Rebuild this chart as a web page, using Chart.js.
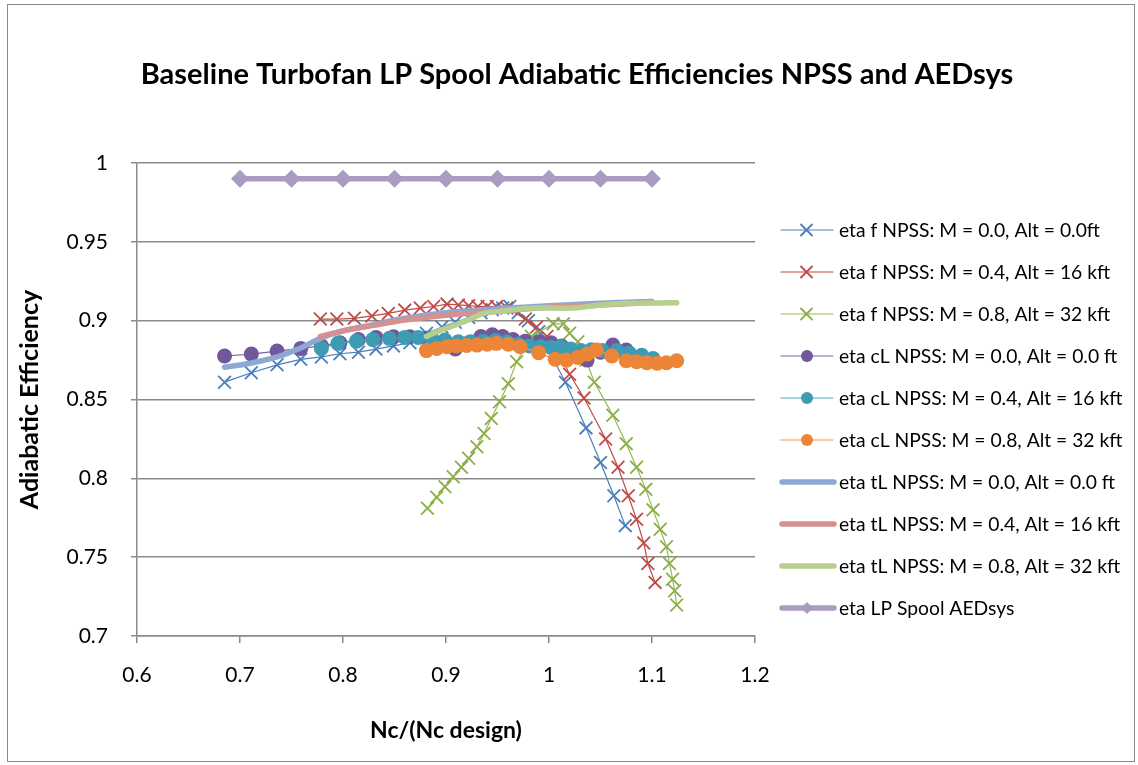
<!DOCTYPE html>
<html>
<head>
<meta charset="UTF-8">
<title>Baseline Turbofan LP Spool Adiabatic Efficiencies</title>
<style>
  body { margin: 0; background: #fff; }
</style>
</head>
<body>
<canvas id="effchart" width="1138" height="765"></canvas>

<script src="https://cdn.jsdelivr.net/npm/chart.js@4.4.1/dist/chart.umd.min.js"></script>
<script>
  // values
  var fM00x = [0.685, 0.711, 0.736, 0.759, 0.779, 0.797, 0.815, 0.832, 0.849, 0.865, 0.881, 0.896, 0.909, 0.922, 0.934, 0.945, 0.955, 0.962, 0.970, 0.980, 0.990, 1.016, 1.036, 1.050, 1.063, 1.074];
  var fM00y = [0.861, 0.867, 0.872, 0.8755, 0.877, 0.879, 0.880, 0.882, 0.884, 0.886, 0.892, 0.896, 0.899, 0.902, 0.905, 0.907, 0.908, 0.909, 0.905, 0.900, 0.893, 0.861, 0.832, 0.810, 0.789, 0.770];

  var fM04x = [0.778, 0.794, 0.811, 0.828, 0.844, 0.860, 0.875, 0.888, 0.901, 0.912, 0.922, 0.931, 0.940, 0.949, 0.959, 0.977, 0.988, 0.998, 1.010, 1.020, 1.034, 1.055, 1.067, 1.077, 1.085, 1.092, 1.096, 1.103];
  var fM04y = [0.901, 0.901, 0.9015, 0.903, 0.9046, 0.9067, 0.908, 0.909, 0.9105, 0.910, 0.9095, 0.909, 0.909, 0.909, 0.908, 0.901, 0.896, 0.890, 0.879, 0.866, 0.851, 0.825, 0.807, 0.789, 0.774, 0.759, 0.746, 0.734];

  var fM08x = [0.882, 0.891, 0.899, 0.907, 0.915, 0.922, 0.930, 0.937, 0.944, 0.952, 0.9605, 0.9686, 0.983, 1.004, 1.014, 1.020, 1.028, 1.036, 1.044, 1.062, 1.075, 1.085, 1.094, 1.101, 1.108, 1.114, 1.117, 1.120, 1.122, 1.124];
  var fM08y = [0.781, 0.788, 0.7947, 0.801, 0.807, 0.8127, 0.820, 0.8285, 0.838, 0.8486, 0.860, 0.874, 0.890, 0.898, 0.898, 0.892, 0.8866, 0.875, 0.861, 0.840, 0.822, 0.807, 0.793, 0.780, 0.7677, 0.7566, 0.746, 0.736, 0.7287, 0.7197];

  var cM00x = [0.685, 0.711, 0.736, 0.759, 0.779, 0.797, 0.815, 0.832, 0.849, 0.865, 0.881, 0.896, 0.909, 0.922, 0.934, 0.945, 0.955, 0.965, 0.977, 0.991, 1.002, 1.012, 1.022, 1.037, 1.050, 1.062, 1.075];
  var cM00y = [0.8776, 0.8788, 0.8807, 0.8824, 0.884, 0.886, 0.888, 0.8894, 0.8898, 0.8898, 0.8888, 0.886, 0.882, 0.886, 0.890, 0.891, 0.890, 0.888, 0.887, 0.8866, 0.886, 0.884, 0.880, 0.875, 0.880, 0.8845, 0.8814];

  var cM04x = [0.779, 0.795, 0.813, 0.829, 0.845, 0.860, 0.873, 0.886, 0.899, 0.912, 0.924, 0.936, 0.948, 0.959, 0.970, 0.981, 0.992, 1.002, 1.011, 1.021, 1.031, 1.041, 1.052, 1.066, 1.078, 1.090, 1.101];
  var cM04y = [0.8824, 0.8856, 0.887, 0.888, 0.8888, 0.8894, 0.8894, 0.889, 0.8877, 0.8866, 0.8866, 0.887, 0.8875, 0.8866, 0.885, 0.884, 0.8835, 0.883, 0.8835, 0.882, 0.881, 0.8815, 0.881, 0.881, 0.8795, 0.878, 0.876];

  var cM08x = [0.881, 0.891, 0.901, 0.910, 0.920, 0.930, 0.940, 0.949, 0.9605, 0.972, 0.990, 1.006, 1.017, 1.028, 1.037, 1.046, 1.061, 1.075, 1.085, 1.095, 1.105, 1.114, 1.124];
  var cM08y = [0.881, 0.8824, 0.8835, 0.884, 0.8843, 0.8845, 0.885, 0.8856, 0.885, 0.8835, 0.8797, 0.8755, 0.875, 0.8767, 0.8788, 0.8814, 0.8776, 0.8746, 0.874, 0.8733, 0.873, 0.8733, 0.8746];

  var tM00x = [0.685, 0.710, 0.736, 0.760, 0.778, 0.800, 0.830, 0.860, 0.900, 0.950, 1.000, 1.050, 1.100];
  var tM00y = [0.8705, 0.873, 0.877, 0.883, 0.8888, 0.8935, 0.8975, 0.9015, 0.905, 0.9075, 0.9095, 0.911, 0.9122];

  var tM04x = [0.778, 0.800, 0.830, 0.860, 0.900, 0.950, 1.000, 1.050, 1.100];
  var tM04y = [0.890, 0.8935, 0.8970, 0.9004, 0.9035, 0.906, 0.9085, 0.910, 0.9115];

  var tM08x = [0.881, 0.893, 0.904, 0.920, 0.936, 0.960, 0.985, 1.024, 1.050, 1.082, 1.110, 1.124];
  var tM08y = [0.890, 0.8935, 0.896, 0.900, 0.9045, 0.9065, 0.908, 0.908, 0.910, 0.911, 0.9112, 0.9114];

  var aedX = [0.70, 0.75, 0.80, 0.85, 0.90, 0.95, 1.00, 1.05, 1.10];
  var aedY = [0.99, 0.99, 0.99, 0.99, 0.99, 0.99, 0.99, 0.99, 0.99];

  var seriesNames = [
    'eta f NPSS: M = 0.0, Alt = 0.0ft',
    'eta f NPSS: M = 0.4, Alt = 16 kft',
    'eta f NPSS: M = 0.8, Alt = 32 kft',
    'eta cL NPSS: M = 0.0, Alt = 0.0 ft',
    'eta cL NPSS: M = 0.4, Alt = 16 kft',
    'eta cL NPSS: M = 0.8, Alt = 32 kft',
    'eta tL NPSS: M = 0.0, Alt = 0.0 ft',
    'eta tL NPSS: M = 0.4, Alt = 16 kft',
    'eta tL NPSS: M = 0.8, Alt = 32 kft',
    'eta LP Spool AEDsys'
  ];

  var pts = function(xs, ys) {
    return xs.map(function(x, i) { return { x: x, y: ys[i] }; });
  };

  var FONT = 'Lato, "Open Sans", sans-serif';

  // kind: f = thin line with x markers, c = thin line with dots, t = thick line, a = thick line with diamonds
  var styles = [
    { kind: 'f', line: '#4A7EBB', mark: '#4A7EBB' },
    { kind: 'f', line: '#BE4B48', mark: '#BE4B48' },
    { kind: 'f', line: '#98B954', mark: '#8BAE46' },
    { kind: 'c', line: '#7D60A0', mark: '#71589A' },
    { kind: 'c', line: '#46AAC5', mark: '#3E9BB4' },
    { kind: 'c', line: '#F79646', mark: '#EC8537' },
    { kind: 't', line: '#8EA8D6', mark: '#8EA8D6' },
    { kind: 't', line: '#D49190', mark: '#D49190' },
    { kind: 't', line: '#B5CF8E', mark: '#B5CF8E' },
    { kind: 'a', line: '#A99BC2', mark: '#A99BC2' }
  ];

  var rawData = [
    pts(fM00x, fM00y), pts(fM04x, fM04y), pts(fM08x, fM08y),
    pts(cM00x, cM00y), pts(cM04x, cM04y), pts(cM08x, cM08y),
    pts(tM00x, tM00y), pts(tM04x, tM04y), pts(tM08x, tM08y),
    pts(aedX, aedY)
  ];

  var datasets = rawData.map(function(d, i) {
    var s = styles[i];
    var ds = {
      label: seriesNames[i],
      data: d,
      showLine: true,
      fill: false,
      tension: 0,
      borderColor: s.line,
      backgroundColor: s.mark,
      order: 20 - i
    };
    if (s.kind === 'f') {
      ds.borderWidth = 1.2;
      ds.pointStyle = 'crossRot';
      ds.pointRadius = 9;
      ds.pointBorderWidth = 1.8;
      ds.pointBorderColor = s.mark;
    } else if (s.kind === 'c') {
      ds.borderWidth = 1.2;
      ds.pointStyle = 'circle';
      ds.pointRadius = 7.5;
      ds.pointBorderWidth = 0;
      ds.pointBackgroundColor = s.mark;
    } else if (s.kind === 't') {
      ds.borderWidth = 5.5;
      ds.pointRadius = 0;
      ds.tension = 0.3;
      ds.borderCapStyle = 'round';
      ds.borderJoinStyle = 'round';
    } else {
      ds.borderWidth = 5.5;
      ds.pointStyle = 'rectRot';
      ds.pointRadius = 9;
      ds.pointBorderWidth = 0;
      ds.pointBackgroundColor = s.mark;
    }
    return ds;
  });

  var fmt = function(v) { return String(Number(v.toFixed(2))); };

  // frame, title and the Excel style legend
  var decor = {
    id: 'decor',
    afterDraw: function(chart) {
      var ctx = chart.ctx;
      ctx.save();
      ctx.strokeStyle = '#8a8a8a';
      ctx.lineWidth = 1;
      ctx.strokeRect(7.5, 4.5, 1127, 757);

      ctx.fillStyle = '#000';
      ctx.font = 'bold 29px ' + FONT;
      ctx.textAlign = 'center';
      ctx.textBaseline = 'middle';
      ctx.fillText('Baseline Turbofan LP Spool Adiabatic Efficiencies NPSS and AEDsys', 577, 75);

      ctx.font = '19.3px ' + FONT;
      ctx.textAlign = 'left';
      for (var i = 0; i < seriesNames.length; i++) {
        var s = styles[i];
        var y = 230 + 42 * i;
        ctx.beginPath();
        ctx.strokeStyle = s.line;
        ctx.lineCap = 'round';
        if (s.kind === 't' || s.kind === 'a') {
          ctx.lineWidth = 5.5;
          ctx.moveTo(782, y);
          ctx.lineTo(834, y);
        } else {
          ctx.lineWidth = 1.2;
          ctx.moveTo(781, y);
          ctx.lineTo(833, y);
        }
        ctx.stroke();
        if (s.kind === 'f') {
          ctx.beginPath();
          ctx.strokeStyle = s.mark;
          ctx.lineWidth = 1.8;
          ctx.moveTo(801, y - 5.5); ctx.lineTo(812, y + 5.5);
          ctx.moveTo(812, y - 5.5); ctx.lineTo(801, y + 5.5);
          ctx.stroke();
        } else if (s.kind === 'c') {
          ctx.beginPath();
          ctx.fillStyle = s.mark;
          ctx.arc(807, y, 6, 0, Math.PI * 2);
          ctx.fill();
        } else if (s.kind === 'a') {
          ctx.beginPath();
          ctx.fillStyle = s.mark;
          ctx.moveTo(807, y - 6); ctx.lineTo(813, y); ctx.lineTo(807, y + 6); ctx.lineTo(801, y);
          ctx.closePath();
          ctx.fill();
        }
        ctx.fillStyle = '#000';
        ctx.fillText(seriesNames[i], 839, y + 1);
      }
      ctx.restore();
    }
  };

  var ctx = document.getElementById('effchart');

  var chart = new Chart(ctx, {
    type: 'scatter',
    data: { datasets: datasets },
    plugins: [decor],
    options: {
      responsive: false,
      animation: false,
      layout: { padding: { left: 8, right: 383, top: 163, bottom: 0 } },
      plugins: {
        legend: { display: false },
        title: { display: false },
        tooltip: { enabled: false }
      },
      scales: {
        x: {
          type: 'linear',
          min: 0.6,
          max: 1.2,
          afterFit: function(scale) { scale.height = 129; },
          ticks: {
            stepSize: 0.1,
            padding: 20,
            color: '#000',
            font: { family: FONT, size: 21 },
            callback: fmt
          },
          grid: { drawOnChartArea: false, drawTicks: true, tickLength: 7, color: '#8a8a8a', lineWidth: 1.5 },
          border: { color: '#8a8a8a', width: 1.5 },
          title: {
            display: true,
            text: 'Nc/(Nc design)',
            color: '#000',
            font: { family: FONT, size: 23, weight: 'bold' },
            padding: { top: 0, bottom: 21 }
          }
        },
        y: {
          type: 'linear',
          min: 0.7,
          max: 1,
          afterFit: function(scale) { scale.width = 129; },
          ticks: {
            stepSize: 0.05,
            padding: 23,
            color: '#000',
            font: { family: FONT, size: 21 },
            callback: fmt
          },
          grid: { drawTicks: true, tickLength: 6, color: '#8a8a8a', lineWidth: 1.5 },
          border: { color: '#8a8a8a', width: 1.5 },
          title: {
            display: true,
            text: 'Adiabatic Efficiency',
            color: '#000',
            font: { family: FONT, size: 25, weight: 'bold' },
            padding: { top: 7, bottom: 0 }
          }
        }
      }
    }
  });
</script>
</body>
</html>
